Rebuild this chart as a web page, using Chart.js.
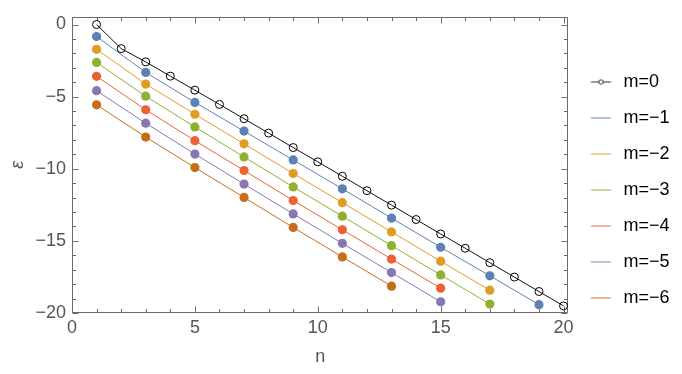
<!DOCTYPE html>
<html>
<head>
<meta charset="utf-8">
<script src="https://cdn.jsdelivr.net/npm/chart.js@4"></script>
<style>
html,body{margin:0;padding:0;background:#fff;}
canvas{display:block;}
</style>
</head>
<body>
<canvas id="c" width="682" height="374"></canvas>
<script>
// ---- data ----
const seriesNames = ['m=0', 'm=\u22121', 'm=\u22122', 'm=\u22123', 'm=\u22124', 'm=\u22125', 'm=\u22126'];
const n_m0 = [1,2,3,4,5,6,7,8,9,10,11,12,13,14,15,16,17,18,19,20];
const eps_m0 = [0, -1.67, -2.59, -3.58, -4.55, -5.54, -6.53, -7.53, -8.53, -9.52, -10.52, -11.52, -12.52, -13.52, -14.52, -15.51, -16.51, -17.51, -18.51, -19.51];
const n_m1 = [1,3,5,7,9,11,13,15,17,19];
const eps_m1 = [-0.83, -3.32, -5.40, -7.39, -9.39, -11.39, -13.42, -15.44, -17.42, -19.42];
const n_m2 = [1,3,5,7,9,11,13,15,17];
const eps_m2 = [-1.72, -4.13, -6.22, -8.27, -10.33, -12.35, -14.38, -16.41, -18.42];
const n_m3 = [1,3,5,7,9,11,13,15,17];
const eps_m3 = [-2.63, -4.97, -7.10, -9.18, -11.26, -13.29, -15.33, -17.36, -19.38];
const n_m4 = [1,3,5,7,9,11,13,15];
const eps_m4 = [-3.59, -5.91, -8.05, -10.12, -12.20, -14.23, -16.26, -18.28];
const n_m5 = [1,3,5,7,9,11,13,15];
const eps_m5 = [-4.59, -6.84, -8.98, -11.06, -13.13, -15.17, -17.20, -19.22];
const n_m6 = [1,3,5,7,9,11,13];
const eps_m6 = [-5.57, -7.80, -9.92, -11.99, -14.07, -16.11, -18.14];
const xTickValues = [0, 5, 10, 15, 20];
const yTickValues = [-20, -15, -10, -5, 0];

// ---- styles ----
const colors = ['#000000', '#5E81B5', '#E19C24', '#8FB032', '#EB6235', '#8778B3', '#C56E1A'];
const FONT = "'Liberation Sans', Arial, sans-serif";
const nArrays = [n_m0, n_m1, n_m2, n_m3, n_m4, n_m5, n_m6];
const eArrays = [eps_m0, eps_m1, eps_m2, eps_m3, eps_m4, eps_m5, eps_m6];
const SW_W = 28, SW_OFF = 4.5;

function hexA(hex, a) {
  const r = parseInt(hex.slice(1,3),16), g = parseInt(hex.slice(3,5),16), b = parseInt(hex.slice(5,7),16);
  return `rgba(${r},${g},${b},${a})`;
}

function makeSwatch(i) {
  const cv = document.createElement('canvas');
  cv.width = SW_W; cv.height = 10;
  const c = cv.getContext('2d');
  if (i === 0) {
    c.strokeStyle = '#555'; c.lineWidth = 1.2;
    c.beginPath(); c.moveTo(SW_OFF, 5); c.lineTo(SW_OFF + 20, 5); c.stroke();
    c.beginPath(); c.arc(SW_OFF + 10, 5, 2.2, 0, Math.PI*2); c.fillStyle = '#fff'; c.fill();
    c.strokeStyle = '#333'; c.lineWidth = 1; c.stroke();
  } else {
    c.strokeStyle = hexA(colors[i], 0.6); c.lineWidth = 1.6;
    c.beginPath(); c.moveTo(SW_OFF, 5); c.lineTo(SW_OFF + 20, 5); c.stroke();
  }
  return cv;
}
const swatches = seriesNames.map((_, i) => makeSwatch(i));

const datasets = seriesNames.map((name, i) => {
  const pts = nArrays[i].map((n, k) => ({x: n, y: eArrays[i][k]}));
  const isZero = i === 0;
  return {
    label: name,
    data: pts,
    borderColor: isZero ? '#111' : colors[i],
    borderWidth: 1,
    tension: 0,
    pointRadius: isZero ? 4 : 4.6,
    pointBorderWidth: isZero ? 1 : 0,
    pointBackgroundColor: isZero ? 'rgba(0,0,0,0)' : colors[i],
    pointBorderColor: isZero ? '#000' : colors[i],
    pointHoverRadius: 0,
    clip: false
  };
});

const framePlugin = {
  id: 'frame',
  beforeDatasetsDraw(chart) {
    const {ctx, chartArea: a, scales: {x, y}} = chart;
    ctx.save();
    ctx.strokeStyle = '#6b6b6b';
    ctx.lineWidth = 1;
    const L = Math.round(a.left) + 0.5, R = Math.round(a.right) - 0.5;
    const T = Math.round(a.top) + 0.5, B = Math.round(a.bottom) - 0.5;
    ctx.beginPath();
    ctx.rect(L, T, R - L, B - T);
    ctx.stroke();
    ctx.beginPath();
    for (let v = Math.ceil(x.min); v <= x.max; v++) {
      const px = Math.round(x.getPixelForValue(v)) + 0.5;
      const len = v % 5 === 0 ? 6 : 3.5;
      ctx.moveTo(px, B); ctx.lineTo(px, B - len);
      ctx.moveTo(px, T); ctx.lineTo(px, T + len);
    }
    for (let v = Math.ceil(y.min); v <= y.max; v++) {
      const py = Math.round(y.getPixelForValue(v)) + 0.5;
      const len = v % 5 === 0 ? 6 : 3.5;
      ctx.moveTo(L, py); ctx.lineTo(L + len, py);
      ctx.moveTo(R, py); ctx.lineTo(R - len, py);
    }
    ctx.stroke();
    ctx.restore();
  }
};

const fmt = v => (v < 0 ? '\u2212' + Math.abs(v) : String(v));

new Chart(document.getElementById('c'), {
  type: 'line',
  data: { datasets },
  options: {
    responsive: false,
    animation: false,
    devicePixelRatio: 1,
    layout: { padding: { top: 6, right: 2.5, left: 0, bottom: 0 } },
    plugins: {
      tooltip: { enabled: false },
      legend: {
        position: 'right',
        labels: {
          usePointStyle: true,
          pointStyleWidth: SW_W,
          padding: 18,
          color: '#000',
          font: { family: FONT, size: 18 },
          generateLabels(chart) {
            return chart.data.datasets.map((ds, i) => ({
              text: ds.label,
              datasetIndex: i,
              fillStyle: 'rgba(0,0,0,0)',
              strokeStyle: 'rgba(0,0,0,0)',
              lineWidth: 0,
              pointStyle: swatches[i],
              fontColor: '#000',
              hidden: false
            }));
          }
        }
      }
    },
    scales: {
      x: {
        type: 'linear',
        min: 0, max: 20.2,
        grid: { display: false, drawTicks: false },
        border: { display: false },
        afterBuildTicks: s => { s.ticks = xTickValues.map(v => ({ value: v })); },
        afterFit: s => { s.height = 61; },
        ticks: { padding: 4, color: '#555', font: { family: FONT, size: 18 }, callback: fmt, maxRotation: 0 },
        title: { display: true, text: 'n', color: '#555', font: { family: FONT, size: 18 }, padding: { top: 0, bottom: 6 } }
      },
      y: {
        type: 'linear',
        min: -20, max: 0.535,
        grid: { display: false, drawTicks: false },
        border: { display: false },
        afterBuildTicks: s => { s.ticks = yTickValues.map(v => ({ value: v })); },
        afterFit: s => { s.width = 72; },
        ticks: { padding: 6, color: '#555', font: { family: FONT, size: 18 }, callback: fmt },
        title: { display: true, text: '\u03B5', color: '#555', font: { family: FONT, size: 18, style: 'italic' }, padding: { top: 7, bottom: 0 } }
      }
    }
  },
  plugins: [framePlugin]
});
</script>
</body>
</html>
